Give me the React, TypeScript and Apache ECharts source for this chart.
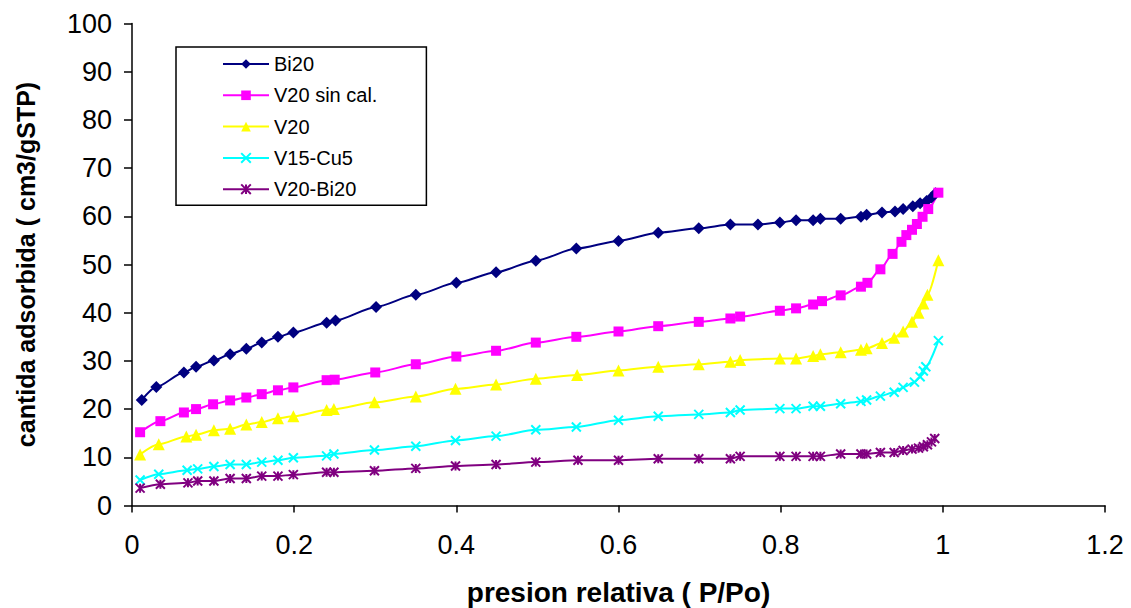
import React, { useEffect, useRef } from "react";
import * as echarts from "echarts";

// Relative pressure (P/Po) readings and adsorbed volume (cm3/gSTP) per sample
const pBi20 = [0.012, 0.03, 0.064, 0.079, 0.101, 0.121, 0.141, 0.16, 0.18, 0.199, 0.24, 0.251, 0.301, 0.35, 0.4, 0.449, 0.498, 0.548, 0.6, 0.649, 0.699, 0.738, 0.772, 0.799, 0.819, 0.84, 0.849, 0.874, 0.899, 0.906, 0.925, 0.941, 0.951, 0.963, 0.972, 0.98, 0.986, 0.991];
const vBi20 = [21.9, 24.6, 27.6, 28.8, 30.1, 31.4, 32.5, 33.8, 35.0, 35.9, 37.9, 38.4, 41.2, 43.7, 46.2, 48.4, 50.8, 53.3, 54.9, 56.6, 57.5, 58.3, 58.3, 58.7, 59.2, 59.2, 59.5, 59.5, 59.9, 60.3, 60.8, 61.0, 61.5, 62.1, 62.7, 63.2, 63.9, 64.8];

const pV20sc = [0.01, 0.035, 0.064, 0.079, 0.1, 0.121, 0.141, 0.16, 0.18, 0.199, 0.24, 0.25, 0.3, 0.35, 0.4, 0.449, 0.498, 0.548, 0.6, 0.649, 0.699, 0.738, 0.75, 0.799, 0.819, 0.84, 0.851, 0.874, 0.899, 0.907, 0.923, 0.938, 0.949, 0.955, 0.962, 0.968, 0.975, 0.982, 0.9945];
const vV20sc = [15.2, 17.5, 19.3, 20.0, 21.0, 21.8, 22.4, 23.1, 23.9, 24.5, 26.0, 26.1, 27.6, 29.3, 30.9, 32.1, 33.8, 35.0, 36.1, 37.2, 38.1, 38.8, 39.2, 40.4, 40.9, 41.7, 42.4, 43.6, 45.4, 46.2, 49.0, 52.2, 54.7, 56.1, 57.2, 58.4, 59.9, 61.5, 64.9];

const pV20 = [0.01, 0.033, 0.067, 0.079, 0.101, 0.121, 0.141, 0.16, 0.18, 0.199, 0.24, 0.249, 0.299, 0.35, 0.399, 0.449, 0.498, 0.549, 0.6, 0.649, 0.699, 0.738, 0.75, 0.799, 0.819, 0.84, 0.849, 0.874, 0.899, 0.906, 0.925, 0.94, 0.951, 0.962, 0.97, 0.976, 0.981, 0.9945];
const vV20 = [10.6, 12.7, 14.3, 14.7, 15.6, 15.9, 16.8, 17.3, 18.1, 18.5, 19.8, 20.0, 21.4, 22.6, 24.2, 25.1, 26.3, 27.1, 28.0, 28.8, 29.3, 29.8, 30.2, 30.5, 30.5, 31.0, 31.4, 31.8, 32.3, 32.6, 33.7, 34.8, 36.1, 38.1, 40.0, 41.9, 43.7, 50.9];

const pV15Cu5 = [0.01, 0.033, 0.068, 0.081, 0.101, 0.121, 0.141, 0.16, 0.18, 0.199, 0.24, 0.249, 0.299, 0.35, 0.399, 0.449, 0.498, 0.548, 0.6, 0.649, 0.699, 0.738, 0.75, 0.799, 0.819, 0.84, 0.849, 0.874, 0.899, 0.906, 0.923, 0.94, 0.951, 0.965, 0.972, 0.976, 0.979, 0.9945];
const vV15Cu5 = [5.3, 6.5, 7.3, 7.6, 8.1, 8.5, 8.5, 9.0, 9.4, 9.9, 10.3, 10.7, 11.5, 12.3, 13.5, 14.4, 15.7, 16.3, 17.7, 18.5, 18.9, 19.3, 19.8, 20.1, 20.1, 20.6, 20.6, 21.1, 21.6, 21.9, 22.7, 23.5, 24.5, 25.6, 26.7, 27.9, 28.8, 34.2];

const pV20Bi20 = [0.01, 0.035, 0.069, 0.081, 0.101, 0.121, 0.141, 0.16, 0.18, 0.199, 0.24, 0.249, 0.299, 0.35, 0.399, 0.449, 0.498, 0.55, 0.6, 0.649, 0.699, 0.738, 0.75, 0.799, 0.819, 0.84, 0.849, 0.874, 0.899, 0.906, 0.923, 0.94, 0.951, 0.962, 0.97, 0.976, 0.981, 0.986, 0.99];
const vV20Bi20 = [3.6, 4.4, 4.7, 5.1, 5.1, 5.6, 5.6, 6.1, 6.1, 6.4, 6.9, 6.9, 7.2, 7.7, 8.2, 8.5, 9.0, 9.4, 9.4, 9.7, 9.7, 9.7, 10.2, 10.2, 10.2, 10.2, 10.2, 10.7, 10.7, 10.7, 11.0, 11.0, 11.4, 11.7, 11.9, 12.2, 12.6, 13.2, 13.9];

const seriesNames = ["Bi20", "V20 sin cal.", "V20", "V15-Cu5", "V20-Bi20"];
const xTicks = [0, 0.2, 0.4, 0.6, 0.8, 1, 1.2];

const FONT = "'Liberation Sans', Arial, sans-serif";

const CROSS = "path://M0,0 L10,10 M10,0 L0,10";
const STAR = "path://M0,0 L10,10 M10,0 L0,10 M5,0 L5,10";

const zip = (xs: number[], ys: number[]) => xs.map((x, i) => [x, ys[i]]);

export default function App() {
  const ref = useRef<HTMLDivElement>(null);

  useEffect(() => {
    if (!ref.current) return;
    const chart = echarts.init(ref.current, undefined, { renderer: "svg" });

    const mk = (
      name: string,
      xs: number[],
      ys: number[],
      color: string,
      symbol: string,
      size: number,
      stroked = false
    ) => ({
      name,
      type: "line",
      data: zip(xs, ys),
      smooth: 0.25,
      smoothMonotone: "x",
      symbol,
      symbolSize: size,
      showAllSymbol: true,
      lineStyle: { color, width: 2 },
      itemStyle: stroked
        ? { color: "transparent", borderColor: color, borderWidth: 2 }
        : { color, borderWidth: 0 },
      emphasis: { disabled: true },
    });

    chart.setOption({
      animation: false,
      backgroundColor: "#ffffff",
      grid: {
        left: 132,
        right: 26,
        top: 23.5,
        bottom: 102.5,
        containLabel: false,
        outerBoundsMode: "none",
      },
      legend: {
        orient: "vertical",
        left: 176,
        top: 47,
        data: seriesNames,
        backgroundColor: "#ffffff",
        borderColor: "#000000",
        borderWidth: 1.5,
        padding: [7, 49, 6, 46],
        itemWidth: 46,
        itemHeight: 12,
        itemGap: 11.3,
        textStyle: { fontFamily: FONT, fontSize: 20, color: "#000", lineHeight: 20 },
      },
      xAxis: {
        type: "value",
        min: 0,
        max: 1.2,
        interval: 0.2,
        name: "presion relativa ( P/Po)",
        nameLocation: "middle",
        nameGap: 73,
        nameTextStyle: { fontFamily: FONT, fontSize: 28, fontWeight: "bold", color: "#000" },
        axisLine: { lineStyle: { color: "#000", width: 1.5 } },
        axisTick: { inside: false, length: 7, lineStyle: { color: "#000", width: 1.5 } },
        splitLine: { show: false },
        axisLabel: {
          margin: 26,
          fontFamily: FONT,
          fontSize: 27,
          color: "#000",
          formatter: (v: number) => {
            const t = xTicks.find((k) => Math.abs(k - v) < 1e-9);
            return t === undefined ? "" : String(t);
          },
        },
      },
      yAxis: {
        type: "value",
        min: 0,
        max: 100,
        interval: 10,
        name: "cantida adsorbida ( cm3/gSTP)",
        nameLocation: "middle",
        nameGap: 94,
        nameTextStyle: { fontFamily: FONT, fontSize: 25, fontWeight: "bold", color: "#000" },
        axisLine: { show: true, lineStyle: { color: "#000", width: 1.5 } },
        axisTick: { show: true, inside: false, length: 8, lineStyle: { color: "#000", width: 1.5 } },
        splitLine: { show: false },
        axisLabel: { margin: 20, fontFamily: FONT, fontSize: 27, color: "#000" },
      },
      series: [
        mk(seriesNames[0], pBi20, vBi20, "#000080", "diamond", 12),
        mk(seriesNames[1], pV20sc, vV20sc, "#FF00FF", "rect", 10),
        mk(seriesNames[2], pV20, vV20, "#FFFF00", "triangle", 12),
        mk(seriesNames[3], pV15Cu5, vV15Cu5, "#00FFFF", CROSS, 9, true),
        mk(seriesNames[4], pV20Bi20, vV20Bi20, "#800080", STAR, 9, true),
      ],
    });

    return () => chart.dispose();
  }, []);

  return <div ref={ref} style={{ width: 1131, height: 608, position: "absolute", left: 0, top: 0 }} />;
}
